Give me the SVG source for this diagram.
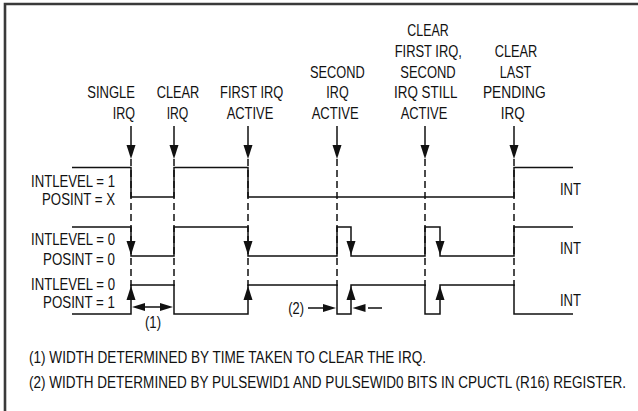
<svg xmlns="http://www.w3.org/2000/svg" width="638" height="411" viewBox="0 0 638 411">
<style>
text{font-family:'Liberation Sans Narrow','Liberation Sans',Arial,sans-serif;font-size:17px;fill:#111}
.e{text-anchor:end}
.m{text-anchor:middle}
.w{fill:none;stroke:#111;stroke-width:1.5}
.d{fill:none;stroke:#111;stroke-width:1.5;stroke-dasharray:7 4}
.a{fill:#111}
.fr{fill:none;stroke:#3a3a3a;stroke-width:2.6}
</style>
<defs>
<path id="ad" class="a" d="M0,0 L-4.5,-14 L4.5,-14 Z"/>
<path id="au" class="a" d="M0,0 L-4.5,14 L4.5,14 Z"/>
<path id="ar" class="a" d="M0,0 L-13,-4 L-13,4 Z"/>
<path id="al" class="a" d="M0,0 L13,-4 L13,4 Z"/>
</defs>
<rect width="638" height="411" fill="#fff"/>
<path class="fr" d="M5,411 V4 H638"/>

<g id="connectors">
<path class="d" d="M131,159 V286 M174,159 V286 M248,159 V286 M337,159 V286 M425,159 V286 M514,159 V286"/>
</g>

<g id="ev-single-irq">
<text class="e" x="135" y="98.4" textLength="47.7" lengthAdjust="spacingAndGlyphs">SINGLE</text>
<text class="e" x="135" y="119" textLength="22.3" lengthAdjust="spacingAndGlyphs">IRQ</text>
<path class="w" d="M131,126 V146"/><use href="#ad" x="131" y="159"/>
</g>
<g id="ev-clear-irq">
<text class="m" x="178" y="98.4" textLength="42.6" lengthAdjust="spacingAndGlyphs">CLEAR</text>
<text class="m" x="177.5" y="119" textLength="21.7" lengthAdjust="spacingAndGlyphs">IRQ</text>
<path class="w" d="M174,126 V146"/><use href="#ad" x="174" y="159"/>
</g>
<g id="ev-first-irq-active">
<text class="m" x="251.7" y="98.4" textLength="63.3" lengthAdjust="spacingAndGlyphs">FIRST IRQ</text>
<text class="m" x="250" y="119" textLength="46.7" lengthAdjust="spacingAndGlyphs">ACTIVE</text>
<path class="w" d="M248,126 V146"/><use href="#ad" x="248" y="159"/>
</g>
<g id="ev-second-irq-active">
<text class="m" x="337.3" y="77.7" textLength="54.7" lengthAdjust="spacingAndGlyphs">SECOND</text>
<text class="m" x="337.5" y="98.4" textLength="22.3" lengthAdjust="spacingAndGlyphs">IRQ</text>
<text class="m" x="335.2" y="119" textLength="47" lengthAdjust="spacingAndGlyphs">ACTIVE</text>
<path class="w" d="M337,126 V146"/><use href="#ad" x="337" y="159"/>
</g>
<g id="ev-clear-first-irq">
<text class="m" x="428" y="36" textLength="41.3" lengthAdjust="spacingAndGlyphs">CLEAR</text>
<text class="m" x="428.3" y="57" textLength="67.3" lengthAdjust="spacingAndGlyphs">FIRST IRQ,</text>
<text class="m" x="428" y="77.7" textLength="55.3" lengthAdjust="spacingAndGlyphs">SECOND</text>
<text class="m" x="425.7" y="98.4" textLength="63.3" lengthAdjust="spacingAndGlyphs">IRQ STILL</text>
<text class="m" x="424" y="119" textLength="46.7" lengthAdjust="spacingAndGlyphs">ACTIVE</text>
<path class="w" d="M425,126 V146"/><use href="#ad" x="425" y="159"/>
</g>
<g id="ev-clear-last-pending-irq">
<text class="m" x="516" y="57" textLength="42.6" lengthAdjust="spacingAndGlyphs">CLEAR</text>
<text class="m" x="515.5" y="77.7" textLength="31.7" lengthAdjust="spacingAndGlyphs">LAST</text>
<text class="m" x="514.3" y="98.4" textLength="62.7" lengthAdjust="spacingAndGlyphs">PENDING</text>
<text class="m" x="512.7" y="119" textLength="24" lengthAdjust="spacingAndGlyphs">IRQ</text>
<path class="w" d="M514,126 V146"/><use href="#ad" x="514" y="159"/>
</g>

<g id="row-intlevel1">
<text class="e" x="115" y="187" textLength="84" lengthAdjust="spacingAndGlyphs">INTLEVEL = 1</text>
<text class="e" x="115" y="205" textLength="73" lengthAdjust="spacingAndGlyphs">POSINT = X</text>
<path class="w" d="M72,167.5 H131 V197 H174 V167.5 H248 V197 H514 V167.5 H573"/>
<text x="560" y="195" textLength="21" lengthAdjust="spacingAndGlyphs">INT</text>
</g>
<g id="row-intlevel0-posint0">
<text class="e" x="115" y="245" textLength="84" lengthAdjust="spacingAndGlyphs">INTLEVEL = 0</text>
<text class="e" x="115" y="265" textLength="72" lengthAdjust="spacingAndGlyphs">POSINT = 0</text>
<path class="w" d="M72,227 H131 V256 H174 V227 H248 V256 H337 V227 H351 V256 H425 V227 H440 V256 H514 V227 H573"/>
<use href="#ad" x="131" y="255"/><use href="#ad" x="248" y="255"/><use href="#ad" x="351" y="255"/><use href="#ad" x="440" y="255"/>
<text x="560" y="254" textLength="21" lengthAdjust="spacingAndGlyphs">INT</text>
</g>
<g id="row-intlevel0-posint1">
<text class="e" x="115" y="290" textLength="84" lengthAdjust="spacingAndGlyphs">INTLEVEL = 0</text>
<text class="e" x="115" y="308" textLength="72" lengthAdjust="spacingAndGlyphs">POSINT = 1</text>
<path class="w" d="M72,314 H131 V285 H174 V314 H248 V285 H337 V314 H351 V285 H425 V314 H440 V285 H514 V314 H573"/>
<use href="#au" x="131" y="286"/><use href="#au" x="248" y="286"/><use href="#au" x="351" y="286"/><use href="#au" x="440" y="286"/>
<text x="560" y="306" textLength="21" lengthAdjust="spacingAndGlyphs">INT</text>
</g>

<g id="width-1">
<path class="w" d="M144,307 H161"/>
<use href="#al" x="132" y="307"/><use href="#ar" x="173" y="307"/>
<text class="m" x="153" y="328" textLength="16" lengthAdjust="spacingAndGlyphs">(1)</text>
</g>
<g id="width-2">
<text x="288.3" y="314" textLength="15.7" lengthAdjust="spacingAndGlyphs">(2)</text>
<path class="w" d="M308,308 H324 M368,308 H382"/>
<use href="#ar" x="336" y="308"/><use href="#al" x="352.5" y="308"/>
</g>

<g id="note-1">
<text transform="translate(29,363) scale(0.78,1)" x="0" y="0" textLength="509" lengthAdjust="spacingAndGlyphs">(1) WIDTH DETERMINED BY TIME TAKEN TO CLEAR THE IRQ.</text>
</g>
<g id="note-2">
<text transform="translate(29,388) scale(0.78,1)" x="0" y="0" textLength="765.4" lengthAdjust="spacingAndGlyphs">(2) WIDTH DETERMINED BY PULSEWID1 AND PULSEWID0 BITS IN CPUCTL (R16) REGISTER.</text>
</g>
</svg>
